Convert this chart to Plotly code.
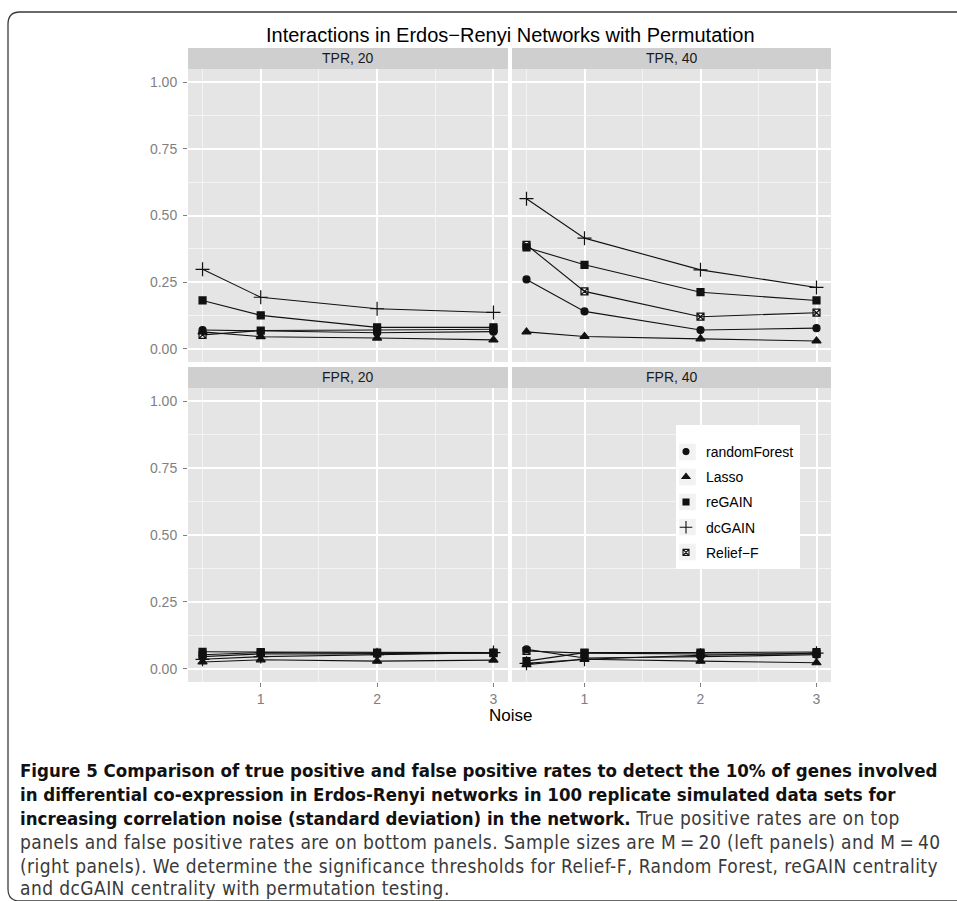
import plotly.graph_objects as go
from plotly.subplots import make_subplots

W, H = 957, 901

# ---------------- data ----------------
noise = [0.5, 1, 2, 3]
methods = ["randomForest", "Lasso", "reGAIN", "dcGAIN", "Relief\u2212F"]
panel_titles = ["TPR, 20", "TPR, 40", "FPR, 20", "FPR, 40"]
y_ticks = [0.0, 0.25, 0.5, 0.75, 1.0]
x_ticks = [1, 2, 3]

# values per method, in the order of `methods`
tpr_20 = [
    [0.070, 0.066, 0.060, 0.064],   # randomForest
    [0.063, 0.045, 0.040, 0.033],   # Lasso
    [0.181, 0.125, 0.080, 0.080],   # reGAIN
    [0.298, 0.193, 0.150, 0.136],   # dcGAIN
    [0.052, 0.068, 0.070, 0.073],   # Relief-F
]
tpr_40 = [
    [0.260, 0.140, 0.070, 0.077],
    [0.063, 0.046, 0.037, 0.029],
    [0.380, 0.315, 0.212, 0.181],
    [0.563, 0.415, 0.296, 0.230],
    [0.390, 0.215, 0.120, 0.135],
]
fpr_20 = [
    [0.045, 0.055, 0.055, 0.060],
    [0.025, 0.033, 0.028, 0.032],
    [0.063, 0.062, 0.060, 0.060],
    [0.035, 0.045, 0.052, 0.060],
    [0.052, 0.060, 0.057, 0.058],
]
fpr_40 = [
    [0.072, 0.040, 0.045, 0.052],
    [0.015, 0.035, 0.028, 0.022],
    [0.028, 0.060, 0.060, 0.062],
    [0.020, 0.035, 0.050, 0.058],
    [0.066, 0.058, 0.055, 0.055],
]
panels = [tpr_20, tpr_40, fpr_20, fpr_40]

# ---------------- styles ----------------
FONT = "Liberation Sans, Arial, Helvetica, sans-serif"
CAPFONT = "Liberation Sans Narrow, DejaVu Sans Condensed, Roboto Condensed, Liberation Sans, sans-serif"
marker_style = {
    "randomForest": dict(symbol="circle", size=7),
    "Lasso": dict(symbol="triangle-up", size=8),
    "reGAIN": dict(symbol="square", size=7),
    "dcGAIN": dict(symbol="cross-thin-open", size=10),
    "Relief\u2212F": dict(symbol="square-x-open", size=7),
}

def fx(p):
    return p / W

def fy(p):
    return 1 - p / H

x_dom = [(188, 508), (512, 831)]
y_dom = [(69, 362), (388, 682)]
strip_y = [(48, 69), (367, 388)]

fig = make_subplots(rows=2, cols=2)

for pi, data in enumerate(panels):
    r, c = pi // 2 + 1, pi % 2 + 1
    for mi, m in enumerate(methods):
        st = marker_style[m]
        fig.add_trace(
            go.Scatter(
                x=noise, y=data[mi], mode="lines+markers", name=m,
                line=dict(color="#111111", width=1.1),
                marker=dict(symbol=st["symbol"], size=st["size"], color="#111111",
                            line=dict(color="#111111", width=1.2)),
                showlegend=False, hoverinfo="x+y+name",
            ),
            row=r, col=c,
        )

# legend-only entries (markers only, like the ggplot keys)
for m in methods:
    st = marker_style[m]
    fig.add_trace(
        go.Scatter(
            x=[None], y=[None], mode="markers", name=m, legendgroup=m,
            marker=dict(symbol=st["symbol"], size=st["size"] - 1, color="#111111",
                        line=dict(color="#111111", width=1.1)),
            showlegend=True,
        ),
        row=2, col=2,
    )

axis_common = dict(
    showline=False, zeroline=False, gridcolor="#FFFFFF", gridwidth=1.6,
    tickfont=dict(family=FONT, size=14, color="#7F7F7F"),
    tickcolor="#7F7F7F", ticklen=4, tickwidth=1,
    minor=dict(showgrid=True, gridcolor="#F4F4F4", gridwidth=0.8),
)

shapes = []
annotations = []

for pi in range(4):
    ri, ci = pi // 2, pi % 2
    xname = "xaxis" if pi == 0 else f"xaxis{pi + 1}"
    yname = "yaxis" if pi == 0 else f"yaxis{pi + 1}"
    xd = x_dom[ci]
    yd = y_dom[ri]
    fig.layout[xname].update(
        domain=[fx(xd[0]), fx(xd[1])], range=[0.375, 3.125],
        tickvals=x_ticks, ticktext=[str(v) for v in x_ticks],
        ticks="outside" if ri == 1 else "", showticklabels=(ri == 1),
        **axis_common,
    )
    fig.layout[xname].minor.update(tick0=0.5, dtick=0.5)
    fig.layout[yname].update(
        domain=[fy(yd[1]), fy(yd[0])], range=[-0.05, 1.05],
        tickvals=y_ticks, ticktext=[f"{v:.2f}" for v in y_ticks],
        ticks="outside" if ci == 0 else "", showticklabels=(ci == 0),
        ticklabelstandoff=3,
        **axis_common,
    )
    fig.layout[yname].minor.update(tick0=0.125, dtick=0.25)
    # strip
    sy = strip_y[ri]
    shapes.append(dict(type="rect", xref="paper", yref="paper",
                       x0=fx(xd[0]), x1=fx(xd[1]), y0=fy(sy[1]), y1=fy(sy[0]),
                       fillcolor="#CFCFCF", line=dict(width=0), layer="below"))
    annotations.append(dict(text=panel_titles[pi], xref="paper", yref="paper",
                            x=fx((xd[0] + xd[1]) / 2), y=fy((sy[0] + sy[1]) / 2),
                            xanchor="center", yanchor="middle", showarrow=False,
                            font=dict(family=FONT, size=14, color="#1A1A1A")))

# legend box and key backgrounds
LEG_L, LEG_R, LEG_T, LEG_B = 676, 800, 425, 569
shapes.append(dict(type="rect", xref="paper", yref="paper",
                   x0=fx(LEG_L), x1=fx(LEG_R), y0=fy(LEG_B), y1=fy(LEG_T),
                   fillcolor="#FFFFFF", line=dict(width=0), layer="above"))
for k in range(5):
    cy = 452 + 25 * k
    shapes.append(dict(type="rect", xref="paper", yref="paper",
                       x0=fx(679), x1=fx(696), y0=fy(cy + 8.5), y1=fy(cy - 8.5),
                       fillcolor="#F2F2F2", line=dict(color="#FFFFFF", width=0.5),
                       layer="above"))

# outer journal frame (rounded left corners, open to the right)
X0, Y0, Y1, R = 8, 12, 901, 12
path = (f"M {fx(W + 5)},{fy(Y0)} L {fx(X0 + R)},{fy(Y0)} "
        f"Q {fx(X0)},{fy(Y0)} {fx(X0)},{fy(Y0 + R)} "
        f"L {fx(X0)},{fy(Y1 - R)} Q {fx(X0)},{fy(Y1)} {fx(X0 + R)},{fy(Y1)} "
        f"L {fx(W + 5)},{fy(Y1)}")
shapes.append(dict(type="path", xref="paper", yref="paper", path=path,
                   line=dict(color="#3A3A3A", width=1.3)))

# title and axis label
annotations.append(dict(text="Interactions in Erdos\u2212Renyi Networks with Permutation",
                        xref="paper", yref="paper", x=fx(510), y=fy(35),
                        xanchor="center", yanchor="middle", showarrow=False,
                        font=dict(family=FONT, size=20, color="#000000")))
annotations.append(dict(text="Noise", xref="paper", yref="paper", x=fx(510), y=fy(715),
                        xanchor="center", yanchor="middle", showarrow=False,
                        font=dict(family=FONT, size=17, color="#000000")))

# caption
BOLD = 'style="font-size:18.5px;color:#111111"'
REG = 'style="font-size:19px;color:#3A3A3A;letter-spacing:0.42px"'
cap_lines = [
    f"<span {BOLD}><b>Figure 5 Comparison of true positive and false positive rates to detect the 10% of genes involved</b></span>",
    f"<span {BOLD}><b>in differential co-expression in Erdos-Renyi networks in 100 replicate simulated data sets for</b></span>",
    f"<span {BOLD}><b>increasing correlation noise (standard deviation) in the network.</b></span><span {REG}> True positive rates are on top</span>",
    f"<span {REG}>panels and false positive rates are on bottom panels. Sample sizes are M\u2009=\u200920 (left panels) and M\u2009=\u200940</span>",
    f"<span {REG}>(right panels). We determine the significance thresholds for Relief-F, Random Forest, reGAIN centrality</span>",
    f"<span {REG}>and dcGAIN centrality with permutation testing.</span>",
]
cap_y = [770, 794, 818, 842, 866, 888]
for t, yy in zip(cap_lines, cap_y):
    annotations.append(dict(text=t, xref="paper", yref="paper", x=fx(19), y=fy(yy),
                            xanchor="left", yanchor="middle", showarrow=False, align="left",
                            borderpad=0,
                            font=dict(family=CAPFONT, size=18, color="#333333")))

fig.update_layout(
    width=W, height=H, margin=dict(l=0, r=0, t=0, b=0),
    paper_bgcolor="#FFFFFF", plot_bgcolor="#E5E5E5",
    shapes=shapes, annotations=annotations,
    showlegend=True,
    legend=dict(x=fx(LEG_L - 10), y=fy(LEG_T + 11), xanchor="left", yanchor="top",
                bgcolor="rgba(0,0,0,0)", borderwidth=0, tracegroupgap=4,
                traceorder="grouped",
                font=dict(family=FONT, size=14, color="#000000")),
    font=dict(family=FONT),
)

fig.write_html(
    "out.html",
    config={"displayModeBar": False},
    post_script="document.body.style.margin='0';document.body.style.overflow='hidden';",
)
